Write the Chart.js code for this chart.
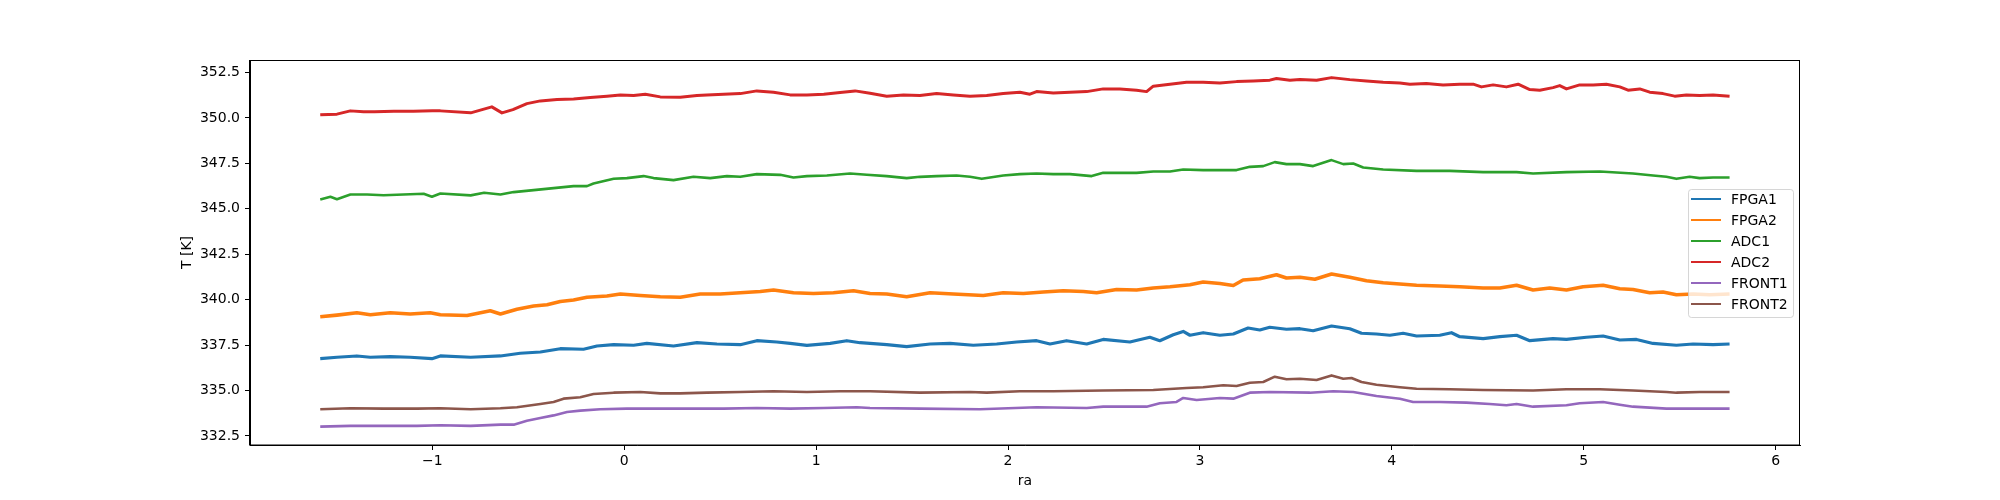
<!DOCTYPE html>
<html>
<head>
<meta charset="utf-8">
<script src="https://cdn.jsdelivr.net/npm/chart.js@4/dist/chart.umd.min.js"></script>
<style>
  html, body { margin: 0; padding: 0; background: #ffffff; }
  #wrap { width: 2000px; height: 500px; }
</style>
</head>
<body>
<div id="wrap"><canvas id="c" width="2000" height="500"></canvas></div>
<script>
// ---- data: [ra, T] ----
const seriesNames = ['FPGA1', 'FPGA2', 'ADC1', 'ADC2', 'FRONT1', 'FRONT2'];
const seriesColors = ['#1f77b4', '#ff7f0e', '#2ca02c', '#d62728', '#9467bd', '#8c564b'];
const xTicks = [-1, 0, 1, 2, 3, 4, 5, 6];
const yTicks = [332.5, 335.0, 337.5, 340.0, 342.5, 345.0, 347.5, 350.0, 352.5];
const xLabel = 'ra';
const yLabel = 'T [K]';

const fpga1 = [[-1.584,336.75],[-1.497,336.83],[-1.393,336.90],[-1.323,336.83],[-1.219,336.86],[-1.115,336.83],[-1.002,336.75],[-0.958,336.90],[-0.800,336.83],[-0.645,336.90],[-0.542,337.05],[-0.437,337.12],[-0.333,337.30],[-0.212,337.27],[-0.142,337.45],[-0.055,337.52],[0.049,337.49],[0.118,337.59],[0.257,337.45],[0.379,337.63],[0.483,337.56],[0.605,337.52],[0.691,337.74],[0.795,337.67],[0.865,337.59],[0.952,337.48],[1.073,337.59],[1.160,337.74],[1.229,337.63],[1.281,337.59],[1.368,337.52],[1.472,337.41],[1.594,337.56],[1.698,337.59],[1.819,337.49],[1.941,337.56],[2.045,337.67],[2.149,337.74],[2.219,337.56],[2.305,337.74],[2.410,337.56],[2.496,337.81],[2.635,337.67],[2.739,337.93],[2.791,337.74],[2.861,338.07],[2.913,338.25],[2.948,338.04],[3.017,338.18],[3.104,338.04],[3.174,338.11],[3.251,338.44],[3.312,338.33],[3.364,338.48],[3.451,338.37],[3.521,338.40],[3.590,338.29],[3.686,338.55],[3.781,338.40],[3.842,338.15],[3.920,338.11],[3.990,338.04],[4.059,338.15],[4.129,338.00],[4.250,338.04],[4.311,338.18],[4.354,337.96],[4.476,337.85],[4.563,337.96],[4.650,338.04],[4.719,337.74],[4.840,337.85],[4.910,337.81],[5.014,337.93],[5.101,338.00],[5.188,337.78],[5.275,337.81],[5.361,337.59],[5.483,337.49],[5.570,337.56],[5.674,337.52],[5.760,337.56]];

const fpga2 = [[-1.584,339.06],[-1.497,339.15],[-1.393,339.28],[-1.323,339.17],[-1.219,339.28],[-1.115,339.21],[-1.011,339.28],[-0.958,339.17],[-0.819,339.13],[-0.698,339.39],[-0.645,339.21],[-0.559,339.47],[-0.472,339.65],[-0.402,339.72],[-0.333,339.90],[-0.264,339.98],[-0.194,340.13],[-0.090,340.20],[-0.020,340.31],[0.084,340.23],[0.188,340.16],[0.292,340.13],[0.396,340.31],[0.500,340.31],[0.605,340.38],[0.709,340.45],[0.778,340.53],[0.882,340.38],[0.986,340.34],[1.090,340.38],[1.195,340.49],[1.281,340.34],[1.368,340.31],[1.472,340.16],[1.594,340.38],[1.715,340.31],[1.871,340.23],[1.975,340.38],[2.080,340.34],[2.184,340.42],[2.288,340.49],[2.392,340.45],[2.462,340.38],[2.566,340.56],[2.670,340.53],[2.757,340.64],[2.844,340.71],[2.948,340.82],[3.017,340.97],[3.104,340.89],[3.174,340.78],[3.225,341.08],[3.312,341.15],[3.399,341.37],[3.451,341.19],[3.521,341.23],[3.599,341.12],[3.686,341.41],[3.781,341.23],[3.868,341.04],[3.955,340.93],[4.042,340.86],[4.129,340.79],[4.250,340.75],[4.354,340.71],[4.476,340.64],[4.563,340.64],[4.650,340.79],[4.736,340.53],[4.823,340.64],[4.910,340.53],[4.997,340.71],[5.101,340.79],[5.188,340.60],[5.257,340.56],[5.344,340.38],[5.413,340.42],[5.483,340.27],[5.570,340.31],[5.656,340.27],[5.760,340.31]];

const adc1 = [[-1.584,345.51],[-1.531,345.66],[-1.497,345.53],[-1.427,345.79],[-1.340,345.79],[-1.254,345.75],[-1.150,345.79],[-1.045,345.83],[-1.002,345.66],[-0.958,345.84],[-0.800,345.74],[-0.730,345.88],[-0.645,345.79],[-0.576,345.92],[-0.472,346.03],[-0.368,346.14],[-0.264,346.25],[-0.194,346.25],[-0.160,346.39],[-0.055,346.65],[0.014,346.69],[0.101,346.80],[0.153,346.69],[0.257,346.58],[0.361,346.76],[0.448,346.69],[0.535,346.80],[0.605,346.76],[0.691,346.91],[0.813,346.87],[0.882,346.72],[0.952,346.80],[1.056,346.83],[1.177,346.94],[1.264,346.87],[1.368,346.80],[1.472,346.69],[1.541,346.76],[1.628,346.80],[1.732,346.83],[1.802,346.76],[1.863,346.65],[1.975,346.83],[2.062,346.91],[2.149,346.94],[2.236,346.91],[2.323,346.91],[2.436,346.80],[2.496,346.98],[2.670,346.98],[2.757,347.05],[2.844,347.05],[2.913,347.16],[3.017,347.13],[3.191,347.13],[3.260,347.31],[3.330,347.35],[3.390,347.57],[3.451,347.46],[3.521,347.46],[3.590,347.35],[3.686,347.68],[3.747,347.46],[3.799,347.49],[3.851,347.27],[3.955,347.16],[4.129,347.09],[4.302,347.09],[4.476,347.02],[4.650,347.02],[4.736,346.94],[4.910,347.02],[5.084,347.05],[5.257,346.94],[5.361,346.83],[5.431,346.76],[5.483,346.65],[5.552,346.76],[5.604,346.69],[5.674,346.72],[5.760,346.72]];

const adc2 = [[-1.584,350.17],[-1.497,350.21],[-1.427,350.39],[-1.358,350.34],[-1.301,350.34],[-1.200,350.37],[-1.099,350.37],[-1.000,350.39],[-0.958,350.39],[-0.800,350.28],[-0.690,350.61],[-0.637,350.28],[-0.580,350.46],[-0.507,350.79],[-0.437,350.94],[-0.350,351.01],[-0.264,351.05],[-0.177,351.12],[-0.090,351.20],[-0.020,351.27],[0.049,351.23],[0.110,351.31],[0.188,351.16],[0.292,351.14],[0.379,351.23],[0.431,351.27],[0.518,351.31],[0.605,351.34],[0.691,351.49],[0.778,351.42],[0.865,351.27],[0.952,351.27],[1.040,351.31],[1.125,351.40],[1.203,351.49],[1.281,351.36],[1.368,351.20],[1.455,351.27],[1.541,351.23],[1.628,351.34],[1.715,351.27],[1.802,351.20],[1.889,351.23],[1.975,351.34],[2.062,351.42],[2.114,351.31],[2.149,351.45],[2.236,351.38],[2.323,351.42],[2.410,351.45],[2.496,351.60],[2.583,351.60],[2.670,351.53],[2.722,351.45],[2.757,351.75],[2.844,351.86],[2.930,351.97],[3.017,351.97],[3.104,351.93],[3.191,352.00],[3.278,352.04],[3.364,352.08],[3.399,352.17],[3.469,352.08],[3.521,352.11],[3.608,352.08],[3.686,352.22],[3.781,352.11],[3.868,352.04],[3.955,351.97],[4.042,351.93],[4.094,351.86],[4.180,351.89],[4.267,351.82],[4.354,351.86],[4.424,351.86],[4.467,351.71],[4.528,351.82],[4.597,351.71],[4.658,351.86],[4.719,351.56],[4.771,351.53],[4.840,351.67],[4.875,351.78],[4.910,351.60],[4.979,351.82],[5.049,351.82],[5.118,351.86],[5.188,351.71],[5.231,351.53],[5.292,351.60],[5.344,351.42],[5.413,351.34],[5.474,351.20],[5.535,351.27],[5.604,351.23],[5.674,351.27],[5.760,351.20]];

const front1 = [[-1.584,333.01],[-1.427,333.05],[-1.254,333.05],[-1.080,333.05],[-0.958,333.09],[-0.800,333.05],[-0.645,333.12],[-0.576,333.12],[-0.507,333.34],[-0.437,333.49],[-0.368,333.63],[-0.298,333.82],[-0.229,333.89],[-0.125,333.97],[0.014,334.00],[0.170,334.00],[0.344,334.00],[0.518,334.00],[0.691,334.04],[0.865,334.00],[1.040,334.04],[1.212,334.08],[1.281,334.04],[1.541,334.00],[1.854,333.97],[2.149,334.08],[2.410,334.04],[2.496,334.11],[2.722,334.11],[2.791,334.30],[2.878,334.37],[2.913,334.59],[2.983,334.48],[3.104,334.59],[3.174,334.55],[3.260,334.88],[3.364,334.92],[3.573,334.88],[3.695,334.96],[3.799,334.92],[3.920,334.70],[4.042,334.55],[4.111,334.37],[4.250,334.37],[4.389,334.33],[4.510,334.26],[4.597,334.19],[4.650,334.26],[4.736,334.11],[4.910,334.19],[4.979,334.30],[5.101,334.37],[5.188,334.22],[5.257,334.11],[5.431,334.00],[5.604,334.00],[5.760,334.00]];

const front2 = [[-1.584,333.97],[-1.427,334.02],[-1.254,334.00],[-1.080,334.00],[-0.958,334.02],[-0.800,333.97],[-0.645,334.02],[-0.559,334.08],[-0.437,334.26],[-0.368,334.37],[-0.316,334.55],[-0.229,334.63],[-0.160,334.81],[-0.055,334.88],[0.084,334.92],[0.188,334.84],[0.292,334.84],[0.431,334.88],[0.605,334.92],[0.778,334.96],[0.952,334.92],[1.125,334.96],[1.281,334.96],[1.541,334.88],[1.802,334.92],[1.889,334.88],[2.062,334.96],[2.236,334.96],[2.496,335.00],[2.757,335.03],[2.930,335.14],[3.017,335.18],[3.122,335.29],[3.191,335.25],[3.260,335.43],[3.330,335.47],[3.390,335.76],[3.451,335.62],[3.521,335.65],[3.608,335.58],[3.686,335.83],[3.747,335.65],[3.790,335.69],[3.842,335.47],[3.920,335.32],[4.042,335.18],[4.129,335.10],[4.302,335.07],[4.476,335.03],[4.736,335.00],[4.910,335.07],[5.084,335.07],[5.257,335.00],[5.431,334.92],[5.483,334.88],[5.604,334.92],[5.760,334.92]];

const seriesData = [fpga1, fpga2, adc1, adc2, front1, front2];
const lineWidths = [3.2, 3.6, 2.6, 3, 2.6, 2.6];

// ---- chart ----
const FONT = 'DejaVu Sans';
const toPts = arr => arr.map(p => ({ x: p[0], y: p[1] }));

const framePlugin = {
  id: 'frameAndLegend',
  afterDatasetsDraw(chart) {
    const ctx = chart.ctx;
    const bx = 1688, by = 189, bw = 105, bh = 128;
    ctx.save();
    ctx.beginPath();
    if (ctx.roundRect) ctx.roundRect(bx + 0.5, by + 0.5, bw, bh, 3); else ctx.rect(bx + 0.5, by + 0.5, bw, bh);
    ctx.fillStyle = 'rgba(255,255,255,0.8)';
    ctx.fill();
    ctx.strokeStyle = 'rgba(204,204,204,0.8)';
    ctx.lineWidth = 1;
    ctx.stroke();
    ctx.font = '14px "' + FONT + '"';
    ctx.textBaseline = 'middle';
    ctx.textAlign = 'left';
    chart.data.datasets.forEach((ds, i) => {
      const y = 199 + i * 21;
      ctx.beginPath();
      ctx.moveTo(1691, y);
      ctx.lineTo(1721, y);
      ctx.strokeStyle = ds.borderColor;
      ctx.lineWidth = 2;
      ctx.stroke();
      ctx.fillStyle = '#000';
      ctx.fillText(ds.label, 1731, y + 1);
    });
    ctx.restore();
  },
  afterDraw(chart) {
    const ctx = chart.ctx;
    const a = chart.chartArea;
    ctx.save();
    ctx.strokeStyle = '#000';
    ctx.lineWidth = 1;
    ctx.strokeRect(Math.round(a.left) - 0.5, Math.round(a.top) + 0.5, Math.round(a.right - a.left), Math.round(a.bottom - a.top) - 0.5);
    ctx.fillStyle = '#000';
    ctx.font = '14px "' + FONT + '"';
    ctx.textAlign = 'center';
    ctx.textBaseline = 'middle';
    ctx.fillText(xLabel, (a.left + a.right) / 2, 481);
    ctx.translate(187, (a.top + a.bottom) / 2);
    ctx.rotate(-Math.PI / 2);
    ctx.fillText(yLabel, 0, 0);
    ctx.restore();
  }
};

new Chart(document.getElementById('c'), {
  type: 'line',
  data: {
    datasets: seriesNames.map((name, i) => ({
      label: name,
      data: toPts(seriesData[i]),
      borderColor: seriesColors[i],
      backgroundColor: seriesColors[i],
      borderWidth: lineWidths[i],
      borderJoinStyle: 'round',
      borderCapStyle: 'butt',
      pointRadius: 0,
      tension: 0,
      fill: false,
      order: seriesNames.length - i
    }))
  },
  options: {
    responsive: false,
    animation: false,
    devicePixelRatio: 1,
    layout: { padding: { left: 0, top: 60, right: 200, bottom: 0 } },
    plugins: { legend: { display: false }, tooltip: { enabled: false } },
    scales: {
      x: {
        type: 'linear',
        min: -1.950,
        max: 6.127,
        afterBuildTicks: s => { s.ticks = xTicks.map(v => ({ value: v })); },
        afterFit: s => { s.height = 55; },
        grid: { display: true, drawOnChartArea: false, drawTicks: true, tickLength: 5, color: '#000', lineWidth: 1 },
        border: { display: true, color: '#000', width: 1 },
        ticks: {
          color: '#000',
          padding: 3,
          maxRotation: 0,
          autoSkip: false,
          font: { family: FONT, size: 14 },
          callback: v => (v < 0 ? '\u2212' + Math.abs(v) : String(v))
        }
      },
      y: {
        type: 'linear',
        min: 332.0,
        max: 353.19,
        afterBuildTicks: s => { s.ticks = yTicks.map(v => ({ value: v })); },
        afterFit: s => { s.width = 250; },
        grid: { display: true, drawOnChartArea: false, drawTicks: true, tickLength: 5, color: '#000', lineWidth: 1 },
        border: { display: true, color: '#000', width: 1 },
        ticks: {
          color: '#000',
          padding: 5,
          autoSkip: false,
          font: { family: FONT, size: 14 },
          callback: v => Number(v).toFixed(1)
        }
      }
    }
  },
  plugins: [framePlugin]
});
</script>
</body>
</html>
